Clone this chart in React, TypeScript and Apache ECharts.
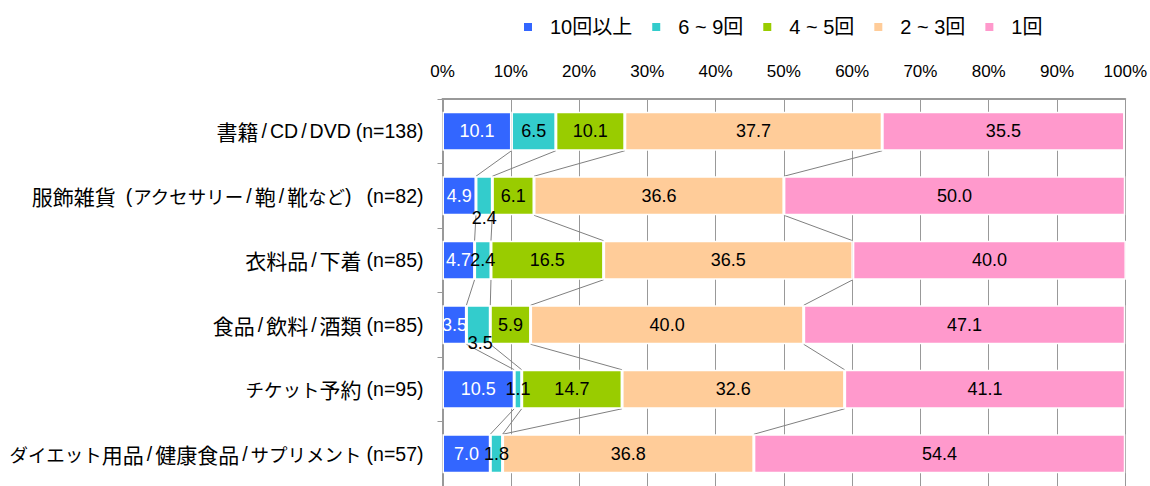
import React, { useEffect, useRef } from "react";
import * as echarts from "echarts";

const categories = [
  "書籍/CD/DVD(n=138)",
  "服飾雑貨(アクセサリー/鞄/靴など)(n=82)",
  "衣料品/下着(n=85)",
  "食品/飲料/酒類(n=85)",
  "チケット予約(n=95)",
  "ダイエット用品/健康食品/サプリメント(n=57)",
];
const seriesNames = ["10回以上", "6 ~ 9回", "4 ~ 5回", "2 ~ 3回", "1回"];
const s10plus = [10.1, 4.9, 4.7, 3.5, 10.5, 7.0];
const s6to9 = [6.5, 2.4, 2.4, 3.5, 1.1, 1.8];
const s4to5 = [10.1, 6.1, 16.5, 5.9, 14.7, 0];
const s2to3 = [37.7, 36.6, 36.5, 40.0, 32.6, 36.8];
const s1 = [35.5, 50.0, 40.0, 47.1, 41.1, 54.4];
const tickValues = [0, 10, 20, 30, 40, 50, 60, 70, 80, 90, 100];

const colors = ["#3366FF", "#33CCCC", "#99CC00", "#FFCC99", "#FF99CC"];
const labelColors = ["#ffffff", "#000000", "#000000", "#000000", "#000000"];
// manual label nudges seen in the reference: [series, category, dx, dy]
const labelNudges: [number, number, number, number][] = [
  [1, 1, 0, 22],
  [1, 3, 2, 18],
];

const LATIN = "'Liberation Sans', Arial, sans-serif";
const CJK = "'Noto Sans CJK JP', sans-serif";
const FONT = "'Liberation Sans', 'Noto Sans CJK JP', sans-serif";
const BAR_W = 39;

function toRich(label: string): string {
  const chars = Array.from(label);
  const tokens: { cls: string; text: string }[] = [];
  chars.forEach((ch, idx) => {
    let cls: string;
    if (ch === "/") cls = "s";
    else if (ch === "(") cls = chars[idx + 1] === "n" ? "o" : "oi";
    else if (ch === ")") cls = idx === chars.length - 1 ? "ce" : "c";
    else if (/[\u4e00-\u9fff]/.test(ch)) cls = "k";
    else if (/[\u3040-\u30ff]/.test(ch)) cls = "a";
    else cls = "l";
    const last = tokens[tokens.length - 1];
    if (last && last.cls === cls && (cls === "k" || cls === "a" || cls === "l")) last.text += ch;
    else tokens.push({ cls, text: ch });
  });
  return tokens.map((t) => `{${t.cls}|${t.text}}`).join("");
}

export default function App() {
  const ref = useRef<HTMLDivElement>(null);
  useEffect(() => {
    if (!ref.current) return;
    const chart = echarts.init(ref.current, undefined, { renderer: "svg" });
    const all = [s10plus, s6to9, s4to5, s2to3, s1];
    const cum = categories.map((_, ci) => {
      const out: number[] = [];
      let acc = 0;
      for (let k = 0; k < all.length - 1; k++) {
        acc += all[k][ci];
        out.push(acc);
      }
      return out;
    });
    const barSeries = all.map((arr, si) => ({
      name: seriesNames[si],
      type: "bar",
      stack: "total",
      barWidth: BAR_W,
      itemStyle: { color: colors[si], borderColor: "#ffffff", borderWidth: 1.5 },
      label: {
        show: true,
        position: "inside",
        color: labelColors[si],
        fontFamily: LATIN,
        fontSize: 18,
        formatter: (p: any) => (p.value === 0 ? "" : Number(p.value).toFixed(1)),
      },
      data: arr.map((v, ci) => {
        const n = labelNudges.find((x) => x[0] === si && x[1] === ci);
        return n ? { value: v, label: { offset: [n[2], n[3]] } } : v;
      }),
    }));
    const connector = {
      type: "custom",
      silent: true,
      z: 1,
      data: categories.slice(0, -1).map((_, i) => [0, i]),
      encode: { x: 0, y: 1 },
      renderItem: (params: any, api: any) => {
        const i = params.dataIndex;
        const half = BAR_W / 2;
        const children = cum[i].map((v, k) => {
          const a = api.coord([v, i]);
          const b = api.coord([cum[i + 1][k], i + 1]);
          return {
            type: "line",
            shape: { x1: a[0], y1: a[1] + half, x2: b[0], y2: b[1] - half },
            style: { stroke: "#808080", lineWidth: 1 },
          };
        });
        return { type: "group", children };
      },
    };
    const base = { color: "#000", fontSize: 19.5, fontFamily: LATIN };
    chart.setOption({
      animation: false,
      backgroundColor: "#ffffff",
      textStyle: { fontFamily: FONT },
      legend: {
        data: seriesNames,
        left: 517,
        top: 12,
        icon: "rect",
        itemWidth: 10,
        itemHeight: 10,
        itemGap: 18,
        textStyle: { fontSize: 20, color: "#000", fontFamily: FONT, padding: [0, 0, 0, 12] },
      },
      grid: { left: 442.5, right: 23.5, top: 99, bottom: -5.5, containLabel: false },
      xAxis: {
        type: "value",
        position: "top",
        min: tickValues[0],
        max: tickValues[tickValues.length - 1],
        interval: 10,
        axisLine: { show: true, lineStyle: { color: "#999999", width: 2 } },
        axisTick: { show: false },
        axisLabel: { formatter: "{value}%", color: "#000", fontSize: 17, margin: 19, fontFamily: LATIN },
        splitLine: { show: true, lineStyle: { color: "#999999", width: 1 } },
      },
      yAxis: {
        type: "category",
        inverse: true,
        data: categories,
        axisLine: { show: true, lineStyle: { color: "#999999", width: 2 } },
        axisTick: { show: true, length: 5, lineStyle: { color: "#999999" } },
        axisLabel: {
          color: "#000",
          margin: 19,
          formatter: (v: string) => toRich(v),
          rich: {
            k: { ...base, fontSize: 21, fontFamily: CJK },
            a: { ...base, fontSize: 18.5, fontFamily: CJK },
            l: { ...base },
            s: { ...base, padding: [0, 3, 0, 3] },
            o: { ...base, padding: [0, 0, 0, 5] },
            oi: { ...base, padding: [0, 0, 0, 10] },
            c: { ...base, padding: [0, 10, 0, 0] },
            ce: { ...base },
          },
        },
      },
      series: [...barSeries, connector],
    });
    return () => chart.dispose();
  }, []);
  return <div ref={ref} style={{ width: 1150, height: 486, position: "absolute", left: 0, top: 0 }} />;
}
